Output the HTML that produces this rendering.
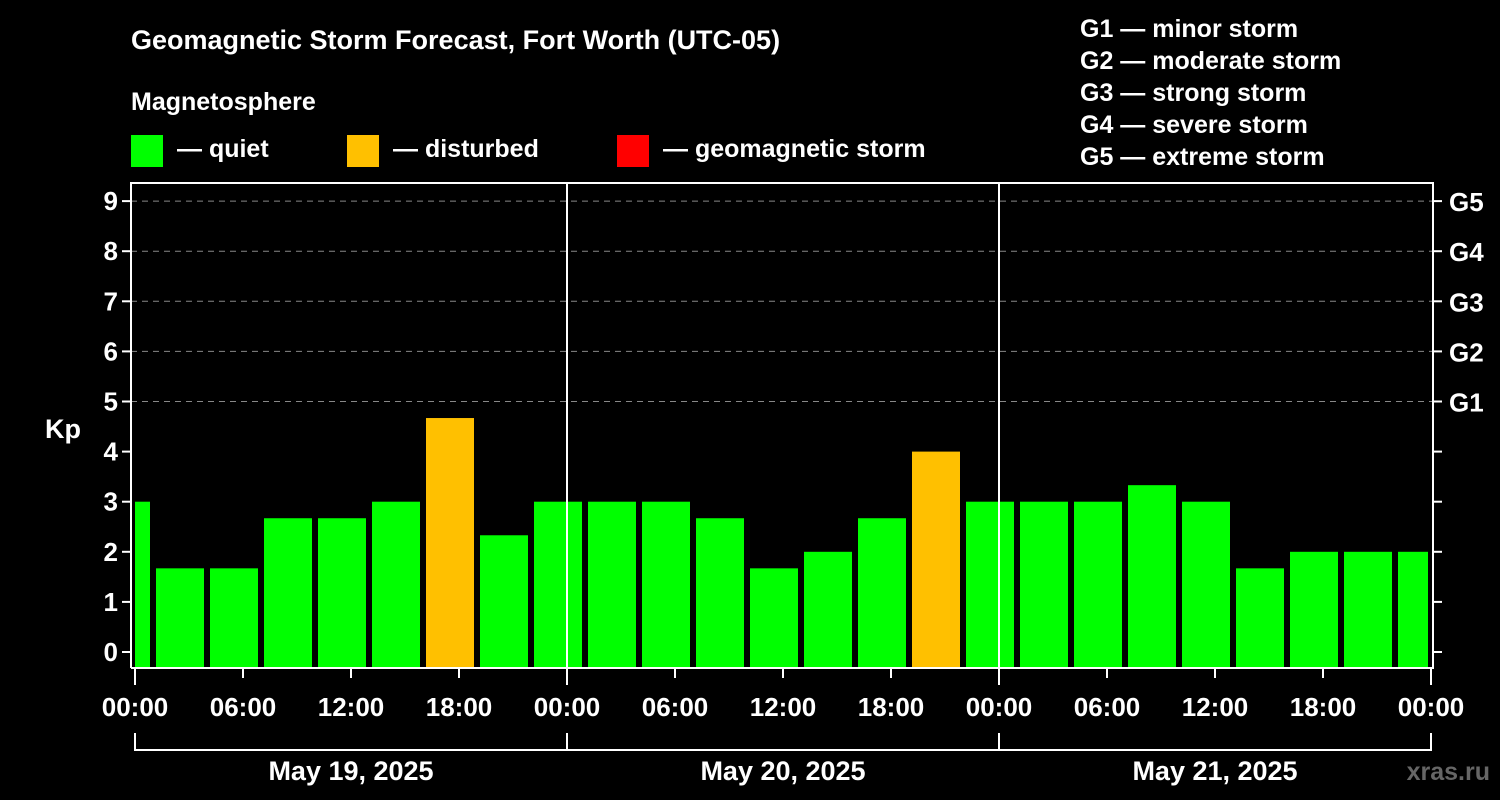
<!DOCTYPE html>
<html><head><meta charset="utf-8"><style>
html,body{margin:0;padding:0;background:#000;width:1500px;height:800px;overflow:hidden}
svg{display:block;font-family:"Liberation Sans",Arial,sans-serif;font-weight:bold}
</style></head><body>
<svg id="chart" width="1500" height="800" viewBox="0 0 1500 800">
<text x="131" y="49" fill="#fff" font-size="27">Geomagnetic Storm Forecast, Fort Worth (UTC-05)</text>
<text x="131" y="110" fill="#fff" font-size="25">Magnetosphere</text>
<g><rect x="131" y="135" width="32" height="32" fill="#00ff00"/><text x="177" y="157" fill="#fff" font-size="25">— quiet</text></g>
<g><rect x="347" y="135" width="32" height="32" fill="#ffc000"/><text x="393" y="157" fill="#fff" font-size="25">— disturbed</text></g>
<g><rect x="617" y="135" width="32" height="32" fill="#ff0000"/><text x="663" y="157" fill="#fff" font-size="25">— geomagnetic storm</text></g>
<g fill="#fff" font-size="25">
<text x="1080" y="37">G1 — minor storm</text>
<text x="1080" y="69">G2 — moderate storm</text>
<text x="1080" y="101">G3 — strong storm</text>
<text x="1080" y="133">G4 — severe storm</text>
<text x="1080" y="165">G5 — extreme storm</text>
</g>
<g id="grid"></g><g id="bars"></g><g id="axes"></g>
<text x="63" y="438" fill="#fff" font-size="27" text-anchor="middle">Kp</text>
<text x="1490" y="780" fill="#666" font-size="25" text-anchor="end">xras.ru</text>
</svg>
<script>
const kpValues=[3,1.67,1.67,2.67,2.67,3,4.67,2.33,3,3,3,2.67,1.67,2,2.67,4,3,3,3,3.33,3,1.67,2,2,2];
const startHours=[-2,1,4,7,10,13,16,19,22,25,28,31,34,37,40,43,46,49,52,55,58,61,64,67,70];
const yTicks=[0,1,2,3,4,5,6,7,8,9];
const gLabels=["G1","G2","G3","G4","G5"];
const xTickLabels=["00:00","06:00","12:00","18:00","00:00","06:00","12:00","18:00","00:00","06:00","12:00","18:00","00:00"];
const dayLabels=["May 19, 2025","May 20, 2025","May 21, 2025"];
const NS="http://www.w3.org/2000/svg";
const X0=135,PXH=18,L=131,R=1433,T=183,B=668;
const x=h=>X0+h*PXH;
const y=v=>652-v*50.1;
function mk(tag,attrs,parent){const e=document.createElementNS(NS,tag);for(const k in attrs)e.setAttribute(k,attrs[k]);parent.appendChild(e);return e;}
const grid=document.getElementById('grid'),bars=document.getElementById('bars'),axes=document.getElementById('axes');
for(let v=5;v<=9;v++){const l=mk('line',{x1:L,x2:R,y1:y(v),y2:y(v),stroke:'#888','stroke-dasharray':'6,5','stroke-width':1},grid);

}
kpValues.forEach((v,i)=>{const s=startHours[i];let x1=Math.max(x(s)+3,X0),x2=Math.min(x(s+3)-3,x(72)-3);
const r=mk('rect',{x:x1,y:y(v),width:x2-x1,height:B-1-y(v),fill:v>=4?'#ffc000':'#00ff00'},bars);

});
const frame=mk('path',{d:`M${L} ${B}V${T}H${R}V${B}H${L}`,stroke:'#fff','stroke-width':2,fill:'none'},axes);


[1,2].forEach(d=>{const l=mk('line',{x1:x(24*d),x2:x(24*d),y1:T,y2:B,stroke:'#fff','stroke-width':2},axes);

});
yTicks.forEach(v=>{mk('line',{x1:L-9,x2:L,y1:y(v),y2:y(v),stroke:'#fff','stroke-width':2},axes);
mk('line',{x1:R,x2:R+9,y1:y(v),y2:y(v),stroke:'#fff','stroke-width':2},axes);
const t=mk('text',{x:L-13,y:y(v)+9,fill:'#fff','font-size':26,'text-anchor':'end'},axes);t.textContent=v;

});
gLabels.forEach((g,i)=>{const t=mk('text',{x:R+16,y:y(5+i)+10,fill:'#fff','font-size':26},axes);t.textContent=g;

});
xTickLabels.forEach((lab,i)=>{const h=i*6,major=h%24===0;
mk('line',{x1:x(h),x2:x(h),y1:B,y2:B+(major?17:10),stroke:'#fff','stroke-width':2},axes);
const t=mk('text',{x:x(h),y:716,fill:'#fff','font-size':26,'text-anchor':'middle'},axes);t.textContent=lab;

});
mk('path',{d:`M${x(0)} 733V750H${x(72)}V733M${x(24)} 733V750M${x(48)} 733V750`,stroke:'#fff','stroke-width':2,fill:'none'},axes);
dayLabels.forEach((d,i)=>{const t=mk('text',{x:x(24*i+12),y:780,fill:'#fff','font-size':27,'text-anchor':'middle'},axes);t.textContent=d;

});
</script>
</body></html>
